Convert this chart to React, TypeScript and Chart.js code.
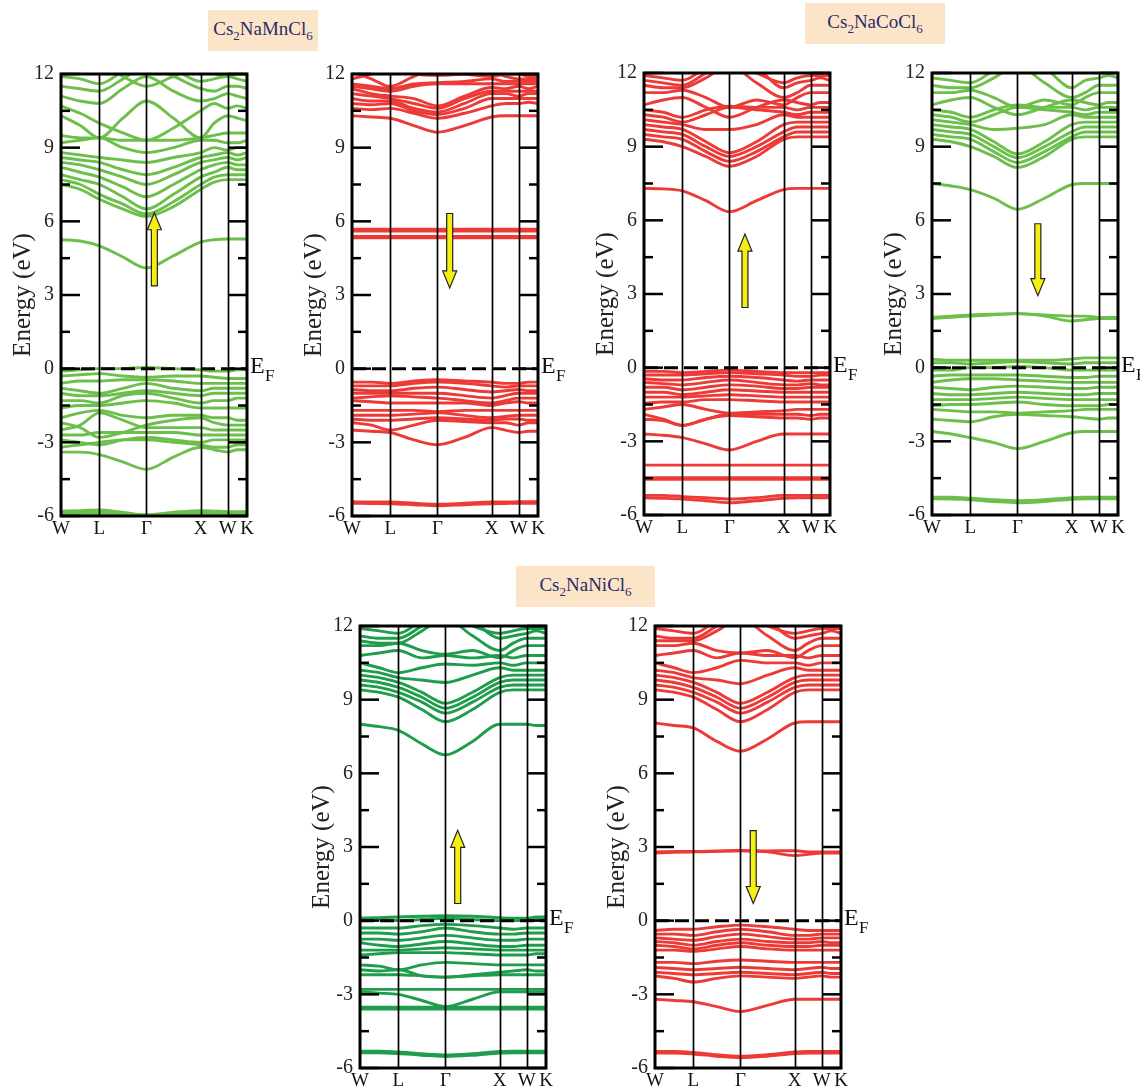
import React, { useEffect, useRef } from "react";
import { Chart, registerables } from "chart.js";

Chart.register(...registerables);

// k-path W-L-Γ-X-W-K (units of 2π/a), with one intermediate sample per segment
const kPath = [0, 0.354, 0.707, 1.14, 1.573, 2.073, 2.573, 2.823, 3.073, 3.25, 3.427];
const kTickPos = [0, 0.707, 1.573, 2.573, 3.073, 3.427];
const kTickLabels = ["W", "L", "Γ", "X", "W", "K"];
const energyMin = -6;
const energyMax = 12;
const energyStep = 3;

// Cs2NaMnCl6, spin up
const mnUpBands = [
  [5.25, 5.2, 5.0, 4.55, 4.1, 4.6, 5.15, 5.25, 5.28, 5.28, 5.28],
  [7.5, 7.3, 6.9, 6.5, 6.2, 6.6, 7.3, 7.6, 7.7, 7.7, 7.7],
  [7.7, 7.5, 7.1, 6.7, 6.3, 6.8, 7.5, 7.8, 7.9, 7.9, 7.9],
  [7.9, 7.7, 7.5, 7.0, 6.5, 7.1, 7.8, 8.0, 8.2, 8.1, 8.1],
  [8.2, 8.0, 7.8, 7.4, 7.0, 7.5, 8.1, 8.3, 8.4, 8.3, 8.3],
  [8.4, 8.3, 8.1, 7.8, 7.5, 7.9, 8.4, 8.5, 8.6, 8.5, 8.6],
  [8.6, 8.5, 8.4, 8.1, 7.9, 8.2, 8.6, 8.7, 8.8, 8.7, 8.8],
  [8.8, 8.7, 8.6, 8.5, 8.4, 8.6, 8.8, 9.0, 8.9, 9.0, 9.0],
  [9.2, 9.3, 9.4, 9.0, 8.8, 9.0, 9.3, 9.3, 9.2, 9.2, 9.3],
  [9.5, 9.4, 9.4, 9.3, 9.3, 9.3, 9.4, 9.5, 9.6, 9.6, 9.6],
  [10.3, 9.9, 9.4, 10.2, 10.9, 10.2, 9.4, 10.0, 10.3, 10.2, 10.1],
  [10.7, 10.4, 10.0, 9.6, 9.3, 9.8, 10.5, 10.8, 10.6, 10.7, 10.6],
  [11.1, 10.9, 10.8, 11.4, 11.9, 11.3, 10.9, 11.0, 11.2, 11.1, 11.0],
  [11.5, 11.4, 11.3, 11.8, 12.3, 11.9, 11.4, 11.3, 11.5, 11.5, 11.4],
  [11.9, 11.8, 11.6, 12.1, 12.5, 12.2, 11.7, 11.8, 11.9, 11.8, 11.7],
  [11.9, 12.2, 12.4, 11.9, 11.5, 11.9, 12.3, 12.0, 11.9, 12.0, 12.0],
  [-0.1, -0.05, 0.0, 0.0, 0.05, 0.0, -0.05, -0.1, -0.1, -0.05, -0.05],
  [-0.3, -0.25, -0.2, -0.3, -0.35, -0.3, -0.3, -0.35, -0.4, -0.4, -0.4],
  [-0.6, -0.5, -0.5, -0.45, -0.45, -0.5, -0.6, -0.6, -0.6, -0.6, -0.6],
  [-0.8, -0.9, -1.0, -0.8, -0.6, -0.8, -0.9, -0.8, -0.8, -0.8, -0.8],
  [-1.0, -1.1, -1.1, -1.0, -0.9, -1.0, -1.1, -1.0, -1.0, -1.0, -1.0],
  [-1.3, -1.3, -1.4, -1.1, -1.0, -1.2, -1.4, -1.3, -1.3, -1.2, -1.2],
  [-1.6, -1.5, -1.5, -1.4, -1.3, -1.4, -1.6, -1.6, -1.6, -1.6, -1.6],
  [-2.0, -1.8, -1.7, -1.9, -2.0, -1.9, -1.9, -2.0, -2.0, -2.1, -2.1],
  [-2.2, -2.4, -2.8, -2.6, -2.3, -2.1, -2.0, -2.2, -2.3, -2.3, -2.3],
  [-2.5, -2.3, -1.8, -2.1, -2.4, -2.4, -2.4, -2.5, -2.5, -2.5, -2.5],
  [-2.7, -2.7, -2.6, -2.6, -2.6, -2.6, -2.7, -2.7, -2.7, -2.7, -2.7],
  [-2.9, -3.0, -3.1, -2.9, -2.8, -2.9, -3.0, -2.9, -2.9, -2.9, -2.9],
  [-3.2, -3.1, -3.0, -2.9, -2.9, -3.0, -3.1, -3.2, -3.2, -3.1, -3.1],
  [-3.4, -3.4, -3.5, -3.8, -4.1, -3.6, -3.2, -3.3, -3.4, -3.3, -3.3],
  [-5.8, -5.78, -5.75, -5.85, -5.95, -5.85, -5.78, -5.8, -5.82, -5.82, -5.82],
  [-5.88, -5.86, -5.84, -5.92, -6.0, -5.92, -5.86, -5.88, -5.9, -5.9, -5.9],
  [-5.96, -5.95, -5.94, -5.98, -6.05, -5.98, -5.95, -5.96, -5.97, -5.97, -5.97],
];

// Cs2NaMnCl6, spin down
const mnDownBands = [
  [10.3, 10.25, 10.2, 9.9, 9.63, 9.9, 10.25, 10.3, 10.3, 10.3, 10.3],
  [10.6, 10.55, 10.6, 10.4, 10.2, 10.4, 10.7, 10.8, 10.8, 10.85, 10.8],
  [10.8, 10.75, 10.8, 10.5, 10.35, 10.6, 11.0, 11.0, 11.0, 11.0, 11.0],
  [11.0, 10.9, 10.9, 10.6, 10.45, 10.8, 11.2, 11.2, 11.1, 11.2, 11.2],
  [11.2, 11.1, 11.0, 10.8, 10.6, 11.0, 11.3, 11.3, 11.3, 11.3, 11.3],
  [11.4, 11.2, 11.1, 11.0, 10.7, 11.1, 11.45, 11.4, 11.5, 11.4, 11.5],
  [11.5, 11.4, 11.3, 11.5, 11.6, 11.6, 11.6, 11.6, 11.6, 11.6, 11.6],
  [11.6, 11.5, 11.4, 11.6, 11.65, 11.7, 11.8, 11.7, 11.7, 11.7, 11.7],
  [12.1, 11.8, 11.5, 11.9, 12.2, 12.0, 11.9, 12.0, 12.0, 11.9, 11.9],
  [11.8, 12.0, 12.2, 12.0, 11.95, 12.0, 12.1, 11.9, 11.8, 11.8, 11.8],
  [5.68, 5.68, 5.68, 5.68, 5.68, 5.68, 5.68, 5.68, 5.68, 5.68, 5.68],
  [5.6, 5.6, 5.6, 5.6, 5.6, 5.6, 5.6, 5.6, 5.6, 5.6, 5.6],
  [5.38, 5.38, 5.38, 5.38, 5.38, 5.38, 5.38, 5.38, 5.38, 5.38, 5.38],
  [5.33, 5.33, 5.33, 5.33, 5.33, 5.33, 5.33, 5.33, 5.33, 5.33, 5.33],
  [-0.55, -0.55, -0.6, -0.5, -0.45, -0.5, -0.55, -0.6, -0.6, -0.55, -0.55],
  [-0.7, -0.7, -0.7, -0.6, -0.55, -0.6, -0.7, -0.75, -0.7, -0.7, -0.7],
  [-0.85, -0.9, -0.9, -0.8, -0.75, -0.85, -0.95, -0.9, -0.85, -0.9, -0.9],
  [-1.0, -1.0, -1.0, -1.0, -1.0, -1.1, -1.2, -1.1, -1.0, -1.0, -1.0],
  [-1.2, -1.15, -1.1, -1.15, -1.2, -1.3, -1.4, -1.3, -1.2, -1.2, -1.2],
  [-1.3, -1.35, -1.4, -1.4, -1.4, -1.4, -1.5, -1.4, -1.35, -1.4, -1.4],
  [-1.7, -1.7, -1.7, -1.7, -1.75, -1.7, -1.7, -1.7, -1.7, -1.7, -1.7],
  [-1.9, -1.9, -1.9, -1.85, -1.8, -1.9, -2.0, -1.95, -1.9, -1.9, -1.9],
  [-2.05, -2.1, -2.1, -2.05, -2.0, -2.05, -2.1, -2.05, -2.05, -2.1, -2.1],
  [-2.2, -2.3, -2.5, -2.3, -2.1, -2.15, -2.2, -2.2, -2.3, -2.2, -2.2],
  [-2.5, -2.55, -2.6, -2.9, -3.1, -2.8, -2.4, -2.5, -2.6, -2.55, -2.55],
  [-5.42, -5.43, -5.43, -5.48, -5.52, -5.48, -5.43, -5.43, -5.42, -5.42, -5.42],
  [-5.48, -5.49, -5.5, -5.54, -5.58, -5.54, -5.5, -5.49, -5.48, -5.48, -5.48],
];

// Cs2NaCoCl6, spin up
const coUpBands = [
  [7.3, 7.28, 7.2, 6.8, 6.35, 6.8, 7.25, 7.3, 7.3, 7.3, 7.3],
  [9.3, 9.2, 9.0, 8.6, 8.2, 8.6, 9.3, 9.4, 9.4, 9.4, 9.4],
  [9.5, 9.4, 9.3, 8.8, 8.4, 8.8, 9.4, 9.6, 9.6, 9.6, 9.6],
  [9.7, 9.6, 9.5, 9.0, 8.6, 9.0, 9.6, 9.8, 9.8, 9.8, 9.8],
  [9.9, 9.8, 9.7, 9.2, 8.75, 9.2, 9.9, 10.0, 10.0, 10.0, 10.0],
  [10.1, 10.0, 9.9, 9.7, 9.7, 9.9, 10.3, 10.2, 10.2, 10.2, 10.2],
  [10.3, 10.2, 10.0, 10.3, 10.6, 10.5, 10.4, 10.3, 10.4, 10.4, 10.4],
  [10.5, 10.4, 10.2, 10.5, 10.65, 10.6, 10.6, 10.5, 10.6, 10.6, 10.6],
  [10.7, 10.9, 11.0, 10.6, 10.2, 10.6, 10.9, 10.8, 10.7, 10.8, 10.8],
  [11.2, 11.2, 11.3, 11.0, 10.6, 10.9, 10.7, 11.0, 11.2, 11.2, 11.2],
  [11.5, 11.4, 11.4, 11.8, 12.3, 11.6, 11.0, 11.2, 11.5, 11.5, 11.5],
  [11.7, 11.6, 11.5, 12.0, 12.5, 12.2, 11.4, 11.6, 11.7, 11.8, 11.7],
  [11.9, 11.8, 11.7, 12.2, 12.5, 12.0, 11.6, 11.8, 11.9, 11.9, 11.9],
  [-0.15, -0.15, -0.2, -0.15, -0.1, -0.15, -0.2, -0.2, -0.2, -0.2, -0.2],
  [-0.3, -0.3, -0.3, -0.25, -0.2, -0.25, -0.3, -0.35, -0.35, -0.3, -0.3],
  [-0.45, -0.5, -0.5, -0.4, -0.35, -0.4, -0.5, -0.55, -0.5, -0.5, -0.5],
  [-0.6, -0.65, -0.7, -0.6, -0.5, -0.6, -0.7, -0.7, -0.65, -0.7, -0.7],
  [-0.8, -0.8, -0.9, -0.8, -0.7, -0.75, -0.85, -0.85, -0.8, -0.8, -0.8],
  [-1.0, -1.0, -1.1, -1.0, -0.9, -0.95, -1.0, -1.0, -1.0, -1.0, -1.0],
  [-1.2, -1.2, -1.2, -1.15, -1.1, -1.15, -1.2, -1.2, -1.2, -1.2, -1.2],
  [-1.45, -1.4, -1.4, -1.3, -1.3, -1.35, -1.4, -1.4, -1.4, -1.4, -1.4],
  [-1.7, -1.6, -1.5, -1.7, -1.85, -1.8, -1.75, -1.7, -1.7, -1.7, -1.7],
  [-1.9, -2.1, -2.35, -2.1, -1.9, -1.9, -1.9, -1.9, -1.95, -1.9, -1.9],
  [-2.1, -2.15, -2.35, -2.1, -1.95, -2.0, -2.05, -2.05, -2.1, -2.05, -2.05],
  [-2.7, -2.75, -2.85, -3.1, -3.35, -3.0, -2.7, -2.7, -2.7, -2.7, -2.7],
  [-3.97, -3.97, -3.97, -3.97, -3.97, -3.97, -3.97, -3.97, -3.97, -3.97, -3.97],
  [-4.48, -4.48, -4.48, -4.48, -4.48, -4.48, -4.48, -4.48, -4.48, -4.48, -4.48],
  [-4.55, -4.55, -4.55, -4.55, -4.55, -4.55, -4.55, -4.55, -4.55, -4.55, -4.55],
  [-5.2, -5.2, -5.25, -5.3, -5.35, -5.3, -5.2, -5.2, -5.2, -5.2, -5.2],
  [-5.3, -5.32, -5.35, -5.42, -5.5, -5.42, -5.32, -5.3, -5.3, -5.3, -5.3],
];

// Cs2NaCoCl6, spin down
const coDownBands = [
  [7.5, 7.4, 7.25, 6.9, 6.45, 6.9, 7.45, 7.5, 7.5, 7.5, 7.5],
  [9.3, 9.2, 9.0, 8.6, 8.15, 8.6, 9.3, 9.4, 9.4, 9.4, 9.4],
  [9.5, 9.4, 9.3, 8.8, 8.35, 8.8, 9.4, 9.6, 9.6, 9.6, 9.6],
  [9.7, 9.6, 9.5, 9.0, 8.55, 9.0, 9.6, 9.8, 9.8, 9.8, 9.8],
  [9.9, 9.8, 9.7, 9.2, 8.7, 9.2, 9.9, 10.0, 10.0, 10.0, 10.0],
  [10.1, 10.0, 9.9, 9.7, 9.75, 9.9, 10.3, 10.2, 10.2, 10.2, 10.2],
  [10.3, 10.2, 10.0, 10.3, 10.6, 10.5, 10.4, 10.3, 10.4, 10.4, 10.4],
  [10.5, 10.4, 10.2, 10.5, 10.7, 10.6, 10.6, 10.5, 10.6, 10.6, 10.6],
  [10.7, 10.9, 11.0, 10.6, 10.3, 10.6, 10.9, 10.8, 10.7, 10.8, 10.8],
  [11.2, 11.2, 11.3, 11.0, 10.6, 10.9, 10.7, 11.0, 11.2, 11.2, 11.2],
  [11.5, 11.4, 11.4, 11.8, 12.3, 11.6, 11.0, 11.2, 11.5, 11.5, 11.5],
  [11.8, 11.7, 11.6, 12.1, 12.5, 12.2, 11.4, 11.7, 11.8, 11.9, 11.8],
  [2.0, 2.05, 2.1, 2.15, 2.2, 2.1, 1.9, 1.95, 2.0, 2.0, 2.0],
  [2.05, 2.1, 2.15, 2.18, 2.2, 2.15, 2.1, 2.1, 2.05, 2.05, 2.05],
  [0.35, 0.3, 0.3, 0.3, 0.3, 0.3, 0.35, 0.4, 0.4, 0.4, 0.4],
  [0.2, 0.2, 0.15, 0.2, 0.25, 0.2, 0.15, 0.2, 0.2, 0.2, 0.2],
  [-0.1, -0.1, 0.0, 0.0, 0.05, 0.0, -0.1, -0.1, -0.1, -0.1, -0.1],
  [-0.35, -0.3, -0.3, -0.3, -0.3, -0.35, -0.4, -0.4, -0.35, -0.35, -0.35],
  [-0.6, -0.5, -0.45, -0.45, -0.5, -0.55, -0.6, -0.6, -0.6, -0.6, -0.6],
  [-0.8, -0.85, -0.9, -0.8, -0.75, -0.8, -0.85, -0.85, -0.8, -0.8, -0.8],
  [-1.05, -1.1, -1.1, -1.05, -1.0, -1.05, -1.1, -1.1, -1.05, -1.05, -1.05],
  [-1.3, -1.3, -1.3, -1.25, -1.2, -1.25, -1.3, -1.3, -1.3, -1.3, -1.3],
  [-1.55, -1.5, -1.5, -1.45, -1.4, -1.5, -1.55, -1.55, -1.55, -1.5, -1.5],
  [-1.7, -1.75, -1.8, -1.8, -1.85, -1.8, -1.75, -1.7, -1.7, -1.7, -1.7],
  [-2.1, -2.15, -2.2, -2.0, -1.9, -1.95, -2.0, -2.05, -2.1, -2.05, -2.05],
  [-2.6, -2.7, -2.85, -3.05, -3.3, -3.0, -2.65, -2.6, -2.6, -2.6, -2.6],
  [-5.28, -5.28, -5.32, -5.38, -5.42, -5.38, -5.3, -5.28, -5.28, -5.28, -5.28],
  [-5.34, -5.35, -5.38, -5.45, -5.5, -5.45, -5.36, -5.34, -5.34, -5.34, -5.34],
];

// Cs2NaNiCl6, spin up
const niUpBands = [
  [8.0, 7.9, 7.75, 7.2, 6.75, 7.3, 8.0, 8.0, 8.0, 7.95, 7.95],
  [9.4, 9.3, 9.1, 8.6, 8.1, 8.6, 9.3, 9.4, 9.4, 9.4, 9.4],
  [9.6, 9.5, 9.3, 8.9, 8.45, 8.9, 9.5, 9.6, 9.6, 9.6, 9.6],
  [9.8, 9.7, 9.5, 9.1, 8.65, 9.1, 9.7, 9.8, 9.8, 9.8, 9.8],
  [10.0, 9.9, 9.7, 9.3, 8.85, 9.3, 9.9, 10.0, 10.0, 10.0, 10.0],
  [10.2, 10.1, 9.9, 9.8, 9.7, 10.0, 10.3, 10.2, 10.2, 10.2, 10.2],
  [10.5, 10.3, 10.1, 10.3, 10.45, 10.4, 10.5, 10.4, 10.5, 10.5, 10.5],
  [10.8, 10.9, 11.0, 10.7, 10.8, 10.7, 10.8, 10.7, 10.8, 10.8, 10.8],
  [11.2, 11.2, 11.3, 11.0, 10.85, 11.0, 10.7, 11.0, 11.2, 11.2, 11.2],
  [11.4, 11.3, 11.3, 11.8, 12.3, 11.6, 11.0, 11.3, 11.5, 11.5, 11.5],
  [11.6, 11.5, 11.5, 12.0, 12.5, 12.2, 11.5, 11.6, 11.7, 11.8, 11.7],
  [11.9, 11.8, 11.7, 12.2, 12.5, 12.0, 11.7, 11.8, 11.9, 11.9, 11.9],
  [0.1, 0.12, 0.15, 0.18, 0.2, 0.18, 0.12, 0.1, 0.1, 0.15, 0.15],
  [0.05, 0.05, 0.0, 0.05, 0.1, 0.05, 0.0, 0.0, 0.0, 0.05, 0.05],
  [-0.3, -0.3, -0.3, -0.2, -0.15, -0.2, -0.3, -0.35, -0.3, -0.3, -0.3],
  [-0.5, -0.5, -0.55, -0.45, -0.3, -0.45, -0.55, -0.55, -0.5, -0.5, -0.5],
  [-0.75, -0.75, -0.8, -0.7, -0.6, -0.7, -0.8, -0.8, -0.75, -0.75, -0.75],
  [-0.9, -1.0, -1.05, -0.95, -0.85, -0.95, -1.05, -1.05, -1.0, -1.0, -1.0],
  [-1.2, -1.2, -1.2, -1.15, -1.1, -1.15, -1.2, -1.2, -1.2, -1.2, -1.2],
  [-1.4, -1.35, -1.3, -1.3, -1.3, -1.35, -1.4, -1.4, -1.4, -1.35, -1.35],
  [-1.8, -1.85, -2.0, -1.8, -1.7, -1.75, -1.8, -1.8, -1.8, -1.8, -1.8],
  [-2.0, -2.05, -2.0, -2.25, -2.3, -2.2, -2.1, -2.05, -2.0, -2.05, -2.05],
  [-2.2, -2.2, -2.2, -2.25, -2.3, -2.25, -2.2, -2.2, -2.2, -2.2, -2.2],
  [-2.8, -2.8, -2.8, -2.8, -2.8, -2.8, -2.8, -2.8, -2.8, -2.8, -2.8],
  [-2.9, -2.95, -3.0, -3.25, -3.5, -3.2, -2.9, -2.9, -2.9, -2.9, -2.9],
  [-3.52, -3.52, -3.52, -3.52, -3.52, -3.52, -3.52, -3.52, -3.52, -3.52, -3.52],
  [-3.6, -3.6, -3.6, -3.6, -3.6, -3.6, -3.6, -3.6, -3.6, -3.6, -3.6],
  [-5.32, -5.32, -5.35, -5.42, -5.47, -5.42, -5.33, -5.32, -5.32, -5.32, -5.32],
  [-5.38, -5.38, -5.41, -5.48, -5.53, -5.48, -5.39, -5.38, -5.38, -5.38, -5.38],
];

// Cs2NaNiCl6, spin down
const niDownBands = [
  [8.05, 7.95, 7.85, 7.3, 6.9, 7.4, 8.05, 8.1, 8.1, 8.1, 8.1],
  [9.4, 9.3, 9.1, 8.6, 8.1, 8.6, 9.3, 9.4, 9.4, 9.4, 9.4],
  [9.6, 9.5, 9.3, 8.9, 8.45, 8.9, 9.5, 9.6, 9.6, 9.6, 9.6],
  [9.8, 9.7, 9.5, 9.1, 8.65, 9.1, 9.7, 9.8, 9.8, 9.8, 9.8],
  [10.0, 9.9, 9.7, 9.3, 8.85, 9.3, 9.9, 10.0, 10.0, 10.0, 10.0],
  [10.2, 10.1, 9.9, 9.8, 9.65, 10.0, 10.3, 10.2, 10.2, 10.2, 10.2],
  [10.5, 10.3, 10.1, 10.3, 10.6, 10.5, 10.5, 10.4, 10.5, 10.5, 10.5],
  [10.8, 10.9, 11.0, 10.7, 10.9, 10.8, 10.8, 10.7, 10.8, 10.8, 10.8],
  [11.2, 11.2, 11.3, 11.0, 10.9, 11.0, 10.7, 11.0, 11.2, 11.2, 11.2],
  [11.4, 11.4, 11.4, 11.8, 12.3, 11.6, 11.0, 11.3, 11.5, 11.5, 11.5],
  [11.6, 11.5, 11.5, 12.0, 12.5, 12.2, 11.5, 11.6, 11.7, 11.8, 11.7],
  [11.9, 11.8, 11.7, 12.2, 12.5, 12.0, 11.7, 11.8, 11.9, 11.9, 11.9],
  [2.75, 2.78, 2.8, 2.82, 2.85, 2.8, 2.65, 2.7, 2.75, 2.75, 2.75],
  [2.8, 2.82, 2.82, 2.84, 2.86, 2.84, 2.85, 2.8, 2.8, 2.8, 2.8],
  [-0.4, -0.35, -0.35, -0.25, -0.18, -0.25, -0.35, -0.4, -0.4, -0.4, -0.4],
  [-0.55, -0.55, -0.6, -0.45, -0.35, -0.45, -0.6, -0.6, -0.55, -0.55, -0.55],
  [-0.7, -0.75, -0.8, -0.65, -0.55, -0.65, -0.75, -0.75, -0.7, -0.7, -0.7],
  [-0.85, -0.9, -1.0, -0.85, -0.75, -0.85, -0.9, -0.9, -0.85, -0.9, -0.9],
  [-1.0, -1.05, -1.15, -1.0, -0.9, -1.0, -1.05, -1.05, -1.0, -1.0, -1.0],
  [-1.2, -1.2, -1.25, -1.15, -1.05, -1.15, -1.2, -1.2, -1.2, -1.2, -1.2],
  [-1.7, -1.7, -1.75, -1.65, -1.6, -1.65, -1.7, -1.7, -1.7, -1.7, -1.7],
  [-1.9, -1.95, -2.0, -1.95, -1.9, -1.95, -2.0, -1.95, -1.9, -1.95, -1.95],
  [-2.1, -2.15, -2.2, -2.15, -2.1, -2.15, -2.2, -2.15, -2.1, -2.15, -2.15],
  [-2.25, -2.35, -2.5, -2.35, -2.25, -2.3, -2.35, -2.3, -2.25, -2.3, -2.3],
  [-3.2, -3.25, -3.3, -3.5, -3.7, -3.45, -3.2, -3.2, -3.2, -3.2, -3.2],
  [-5.33, -5.33, -5.37, -5.46, -5.52, -5.46, -5.35, -5.33, -5.33, -5.33, -5.33],
  [-5.39, -5.39, -5.43, -5.52, -5.58, -5.52, -5.41, -5.39, -5.39, -5.39, -5.39],
];

// spin arrows: [k position, tail energy, tip energy]
const mnUpArrow = [1.72, 3.37, 6.35];
const mnDownArrow = [1.8, 6.32, 3.29];
const coUpArrow = [1.86, 2.45, 5.44];
const coDownArrow = [1.95, 5.86, 2.93];
const niUpArrow = [1.8, 0.7, 3.68];
const niDownArrow = [1.81, 3.67, 0.7];

const SERIF = "'Liberation Serif', 'Times New Roman', serif";
const LIGHT_GREEN = "#6cbf4a";
const DARK_GREEN = "#1f9d4c";
const RED = "#ee3a36";

const AXIS_W = 60;
const PAD_T = 14;
const PAD_R = 45;
const XAXIS_H = 30;
const PLOT_W = 186;
const PLOT_H = 447;

const decorPlugin = {
  id: "decor",
  afterDatasetsDraw(chart: any, _args: any, opts: any) {
    const { ctx, chartArea: a, scales } = chart;
    const xs = scales.x;
    const ys = scales.y;
    const line = (x1: number, y1: number, x2: number, y2: number) => {
      ctx.beginPath();
      ctx.moveTo(x1, y1);
      ctx.lineTo(x2, y2);
      ctx.stroke();
    };
    ctx.save();
    ctx.strokeStyle = "#000";
    ctx.lineCap = "butt";

    // high-symmetry point separators
    ctx.lineWidth = 1.7;
    kTickPos.slice(1, -1).forEach((k) => {
      const px = Math.round(xs.getPixelForValue(k)) + 0.5;
      line(px, a.top, px, a.bottom);
    });

    // Fermi level
    const y0 = ys.getPixelForValue(0);
    ctx.lineWidth = 3;
    ctx.setLineDash([14, 6]);
    line(a.left, y0, a.right, y0);
    ctx.setLineDash([]);

    // inward tick marks on both sides
    ctx.lineWidth = 2.5;
    for (let v = energyMin; v <= energyMax; v += energyStep / 2) {
      const len = Math.abs(v % energyStep) < 1e-6 ? 19 : 9;
      const py = ys.getPixelForValue(v);
      line(a.left, py, a.left + len, py);
      line(a.right - len, py, a.right, py);
    }

    // frame
    ctx.lineWidth = 3;
    ctx.strokeRect(a.left, a.top, a.right - a.left, a.bottom - a.top);

    // spin arrow
    const arr = opts.arrow as number[];
    if (arr) {
      const ax = xs.getPixelForValue(arr[0]);
      const yTail = ys.getPixelForValue(arr[1]);
      const yTip = ys.getPixelForValue(arr[2]);
      const dir = yTip < yTail ? -1 : 1;
      const headLen = 17;
      const headHalf = 7;
      const shaftHalf = 3;
      const yBase = yTip - dir * headLen;
      ctx.beginPath();
      ctx.moveTo(ax - shaftHalf, yTail);
      ctx.lineTo(ax - shaftHalf, yBase);
      ctx.lineTo(ax - headHalf, yBase);
      ctx.lineTo(ax, yTip);
      ctx.lineTo(ax + headHalf, yBase);
      ctx.lineTo(ax + shaftHalf, yBase);
      ctx.lineTo(ax + shaftHalf, yTail);
      ctx.closePath();
      ctx.fillStyle = "#f4ee12";
      ctx.fill();
      ctx.lineWidth = 1.2;
      ctx.strokeStyle = "#222";
      ctx.stroke();
    }

    // E_F label
    ctx.fillStyle = "#111";
    ctx.textAlign = "left";
    ctx.textBaseline = "alphabetic";
    ctx.font = `24px ${SERIF}`;
    ctx.fillText("E", a.right + 3, y0 + 4);
    ctx.font = `17px ${SERIF}`;
    ctx.fillText("F", a.right + 18, y0 + 12);
    ctx.restore();
  },
};

type PanelProps = {
  bands: number[][];
  color: string;
  left: number;
  top: number;
  arrow: number[];
};

function BandPanel({ bands, color, left, top, arrow }: PanelProps) {
  const ref = useRef<HTMLCanvasElement>(null);
  const cw = AXIS_W + PLOT_W + PAD_R;
  const ch = PAD_T + PLOT_H + XAXIS_H;

  useEffect(() => {
    if (!ref.current) return;
    const chart = new Chart(ref.current, {
      type: "line",
      data: {
        datasets: bands.map((b) => ({
          data: kPath.map((k, i) => ({ x: k, y: b[i] })),
          borderColor: color,
          borderWidth: 2.9,
          pointRadius: 0,
          cubicInterpolationMode: "monotone" as const,
          fill: false,
        })),
      },
      options: {
        animation: false,
        responsive: false,
        devicePixelRatio: 1,
        events: [],
        layout: { padding: { left: 0, top: PAD_T, right: PAD_R, bottom: 0 } },
        plugins: {
          legend: { display: false },
          tooltip: { enabled: false },
          decor: { arrow },
        } as any,
        scales: {
          x: {
            type: "linear",
            min: kTickPos[0],
            max: kTickPos[kTickPos.length - 1],
            grid: { display: false, drawTicks: false },
            border: { display: false },
            afterBuildTicks: (s: any) => {
              s.ticks = kTickPos.map((v) => ({ value: v }));
            },
            afterFit: (s: any) => {
              s.height = XAXIS_H;
            },
            ticks: {
              autoSkip: false,
              maxRotation: 0,
              padding: 2,
              color: "#111",
              font: { family: SERIF, size: 19 },
              callback: (_v: any, i: number) => kTickLabels[i],
            },
          },
          y: {
            type: "linear",
            min: energyMin,
            max: energyMax,
            grid: { display: false, drawTicks: false },
            border: { display: false },
            afterFit: (s: any) => {
              s.width = AXIS_W;
            },
            ticks: {
              stepSize: energyStep,
              padding: 7,
              color: "#222",
              font: { family: SERIF, size: 20 },
            },
            title: {
              display: true,
              text: "Energy (eV)",
              color: "#222",
              font: { family: SERIF, size: 25 },
              padding: { top: 7, bottom: 0 },
            },
          },
        },
      },
      plugins: [decorPlugin],
    });
    return () => chart.destroy();
  }, []);

  return (
    <canvas
      ref={ref}
      width={cw}
      height={ch}
      style={{ position: "absolute", left: left - AXIS_W, top: top - PAD_T, width: cw, height: ch }}
    />
  );
}

function Formula({ metal, left, top, width, height }: { metal: string; left: number; top: number; width: number; height: number }) {
  return (
    <div
      style={{
        position: "absolute",
        left,
        top,
        width,
        height,
        background: "#fce4c9",
        color: "#2a2d66",
        fontFamily: SERIF,
        fontSize: 19,
        display: "flex",
        alignItems: "center",
        justifyContent: "center",
        lineHeight: 1,
      }}
    >
      <span>
        Cs<sub style={{ fontSize: 13 }}>2</sub>Na{metal}Cl<sub style={{ fontSize: 13 }}>6</sub>
      </span>
    </div>
  );
}

export default function App() {
  return (
    <div
      style={{
        position: "absolute",
        left: 0,
        top: 0,
        width: 1140,
        height: 1087,
        overflow: "hidden",
        background: "#fff",
      }}
    >
      <Formula metal="Mn" left={208} top={10} width={110} height={41} />
      <Formula metal="Co" left={805} top={3} width={140} height={41} />
      <Formula metal="Ni" left={516} top={566} width={139} height={41} />
      <BandPanel bands={mnUpBands} color={LIGHT_GREEN} left={61} top={69} arrow={mnUpArrow} />
      <BandPanel bands={mnDownBands} color={RED} left={352} top={69} arrow={mnDownArrow} />
      <BandPanel bands={coUpBands} color={RED} left={644} top={68} arrow={coUpArrow} />
      <BandPanel bands={coDownBands} color={LIGHT_GREEN} left={932} top={68} arrow={coDownArrow} />
      <BandPanel bands={niUpBands} color={DARK_GREEN} left={360} top={621} arrow={niUpArrow} />
      <BandPanel bands={niDownBands} color={RED} left={655} top={621} arrow={niDownArrow} />
    </div>
  );
}
